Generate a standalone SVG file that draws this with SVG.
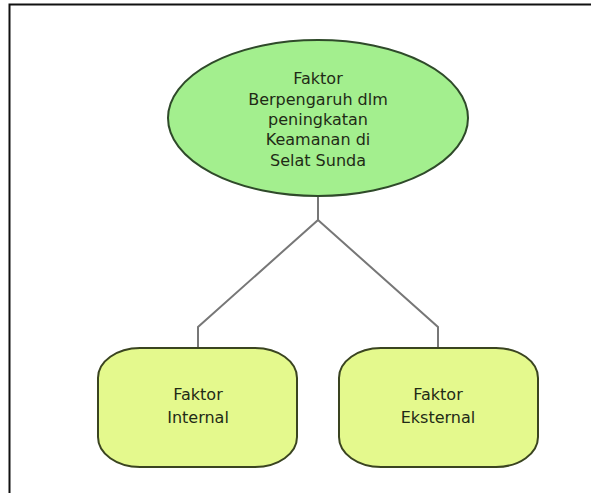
<svg xmlns="http://www.w3.org/2000/svg" width="591" height="493" viewBox="0 0 591 493">
<style>
.t{font-family:"DejaVu Sans",sans-serif;font-size:16px;fill:#1f2b16;text-anchor:middle}
.box{fill:#e4f98d;stroke:#3a4420;stroke-width:2}
.ell{fill:#a3ef8e;stroke:#2f4a2a;stroke-width:2}
.con{fill:none;stroke:#777;stroke-width:2}
</style>
<rect width="591" height="493" fill="#fff"/>
<path d="M9.5,493 V4.5 H591" fill="none" stroke="#111" stroke-width="2"/>
<g id="connectors">
<path class="con" d="M318,196 V220 L198,327 V348"/>
<path class="con" d="M318,220 L438,327 V348"/>
</g>
<g id="root">
<ellipse class="ell" cx="318" cy="118" rx="150" ry="78"/>
<text class="t" x="318" y="84">Faktor</text>
<text class="t" x="318" y="105">Berpengaruh dlm</text>
<text class="t" x="318" y="125">peningkatan</text>
<text class="t" x="318" y="145">Keamanan di</text>
<text class="t" x="318" y="166">Selat Sunda</text>
</g>
<g id="internal">
<rect class="box" x="98" y="348" width="199" height="119" rx="42" ry="30"/>
<text class="t" x="198" y="400">Faktor</text>
<text class="t" x="198" y="423">Internal</text>
</g>
<g id="eksternal">
<rect class="box" x="339" y="348" width="199" height="119" rx="42" ry="30"/>
<text class="t" x="438" y="400">Faktor</text>
<text class="t" x="438" y="423">Eksternal</text>
</g>
</svg>
